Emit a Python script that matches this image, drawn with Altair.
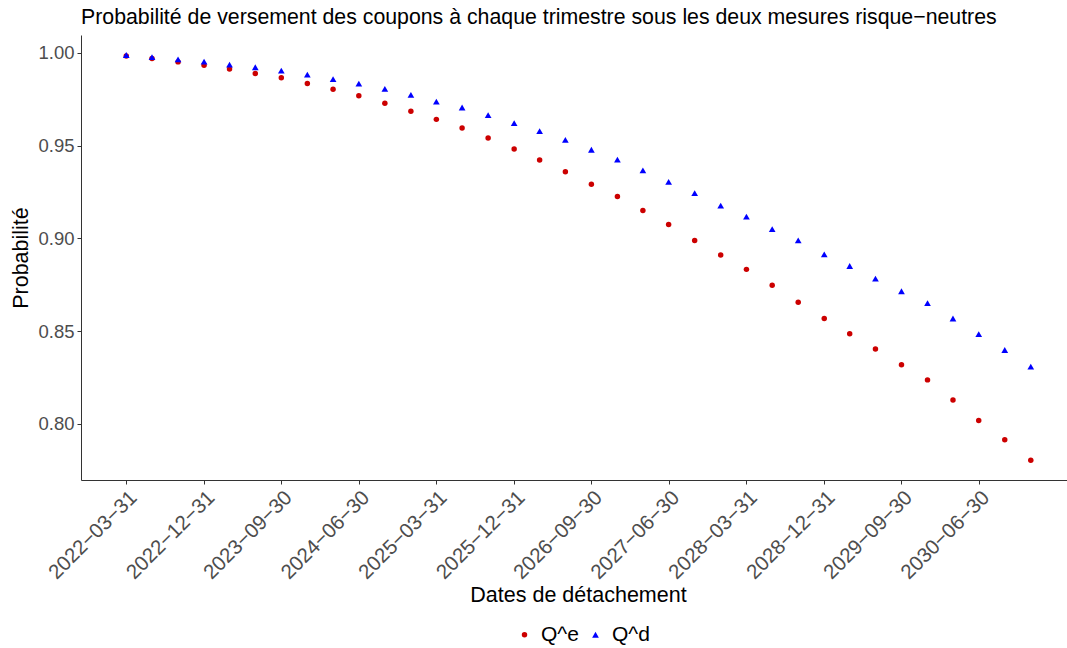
import altair as alt
import pandas as pd

# Quarterly coupon detachment dates
dates = [
    "2022-03-31", "2022-06-30", "2022-09-30", "2022-12-31",
    "2023-03-31", "2023-06-30", "2023-09-30", "2023-12-31",
    "2024-03-31", "2024-06-30", "2024-09-30", "2024-12-31",
    "2025-03-31", "2025-06-30", "2025-09-30", "2025-12-31",
    "2026-03-31", "2026-06-30", "2026-09-30", "2026-12-31",
    "2027-03-31", "2027-06-30", "2027-09-30", "2027-12-31",
    "2028-03-31", "2028-06-30", "2028-09-30", "2028-12-31",
    "2029-03-31", "2029-06-30", "2029-09-30", "2029-12-31",
    "2030-03-31", "2030-06-30", "2030-09-30", "2030-12-31",
]

# Coupon payment probability under each risk-neutral measure
q_e = [
    0.9984, 0.9970, 0.9952, 0.9934, 0.9914, 0.9889, 0.9866, 0.9835, 0.9805,
    0.9769, 0.9729, 0.9686, 0.9642, 0.9595, 0.9541, 0.9482, 0.9423, 0.9360,
    0.9292, 0.9226, 0.9151, 0.9075, 0.8989, 0.8910, 0.8833, 0.8747, 0.8656,
    0.8568, 0.8486, 0.8403, 0.8319, 0.8237, 0.8129, 0.8018, 0.7914, 0.7803,
]
q_d = [
    0.9989, 0.9978, 0.9966, 0.9953, 0.9937, 0.9923, 0.9905, 0.9883, 0.9859,
    0.9835, 0.9806, 0.9774, 0.9738, 0.9706, 0.9665, 0.9622, 0.9579, 0.9531,
    0.9478, 0.9425, 0.9367, 0.9305, 0.9244, 0.9177, 0.9117, 0.9050, 0.8989,
    0.8914, 0.8851, 0.8783, 0.8715, 0.8651, 0.8568, 0.8484, 0.8398, 0.8308,
]

measures = ["Q^e", "Q^d"]
measure_colors = ["#CC0000", "#0000FF"]
measure_shapes = ["circle", "triangle-up"]
measure_sizes = [30, 45]

# Axis breaks: every third quarter
tick_dates = [
    "2022-03-31", "2022-12-31", "2023-09-30", "2024-06-30",
    "2025-03-31", "2025-12-31", "2026-09-30", "2027-06-30",
    "2028-03-31", "2028-12-31", "2029-09-30", "2030-06-30",
]
y_ticks = [0.80, 0.85, 0.90, 0.95, 1.00]

df = pd.DataFrame({
    "date": dates + dates,
    "prob": q_e + q_d,
    "mesure": [measures[0]] * len(q_e) + [measures[1]] * len(q_d),
})


def utc_date(s):
    y, m, d = (int(p) for p in s.split("-"))
    return alt.DateTime(year=y, month=m, date=d, utc=True)


legend = alt.Legend(
    title=None,
    orient="none",
    direction="horizontal",
    legendX=433,
    legendY=589,
    labelFontSize=21,
    labelColor="black",
    labelOffset=6,
    columnPadding=6,
    symbolSize=30,
)

chart = (
    alt.Chart(df)
    .mark_point(filled=True, opacity=1)
    .encode(
        x=alt.X(
            "date:T",
            scale=alt.Scale(
                type="utc",
                domain=[utc_date("2021-10-22"), utc_date("2031-05-08")],
                nice=False,
            ),
            axis=alt.Axis(
                values=[utc_date(s) for s in tick_dates],
                labelExpr="utcFormat(datum.value, '%Y\u2212%m\u2212%d')",
                labelAngle=315,
                labelAlign="right",
                labelBaseline="top",
                labelOverlap=False,
                labelFontSize=20.5,
                title="Dates de détachement",
                titleX=497,
                titleY=121,
                titleAlign="center",
                titleBaseline="alphabetic",
                grid=False,
            ),
        ),
        y=alt.Y(
            "prob:Q",
            scale=alt.Scale(domain=[0.7697, 1.0097], nice=False, zero=False),
            axis=alt.Axis(
                values=y_ticks,
                format=".2f",
                labelFontSize=18.5,
                title="Probabilité",
                titleX=-54,
                titleBaseline="alphabetic",
                grid=False,
            ),
        ),
        color=alt.Color(
            "mesure:N",
            scale=alt.Scale(domain=measures, range=measure_colors),
            legend=legend,
        ),
        shape=alt.Shape(
            "mesure:N",
            scale=alt.Scale(domain=measures, range=measure_shapes),
            legend=legend,
        ),
        size=alt.Size(
            "mesure:N",
            scale=alt.Scale(domain=measures, range=measure_sizes),
            legend=None,
        ),
    )
    .properties(
        width=986,
        height=445,
        autosize=alt.AutoSizeParams(type="none"),
        padding={"left": 81, "top": 35, "right": 0, "bottom": 168},
        title=alt.TitleParams(
            "Probabilité de versement des coupons à chaque trimestre sous les deux mesures risque\u2212neutres",
            anchor="start",
            frame="group",
            fontSize=21.3,
            fontWeight="normal",
            color="black",
            offset=10,
            dy=20,
            baseline="alphabetic",
        ),
    )
    .configure(font="Liberation Sans")
    .configure_view(stroke=None)
    .configure_axis(
        domainColor="#333333",
        domainWidth=1,
        tickColor="#333333",
        tickSize=4,
        labelColor="#4D4D4D",
        labelPadding=3,
        titleFontSize=21.5,
        titleColor="black",
        titleFontWeight="normal",
    )
)

chart.save("out.html", embed_options={"renderer": "svg", "actions": False})
